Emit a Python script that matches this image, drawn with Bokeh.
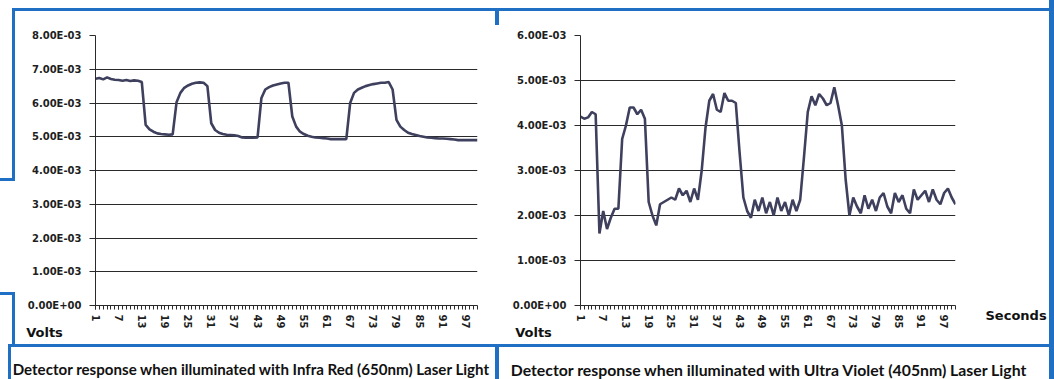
from bokeh.plotting import figure
from bokeh.models import Range1d, FixedTicker, Label
from bokeh.layouts import row
from bokeh.embed import file_html
from bokeh.resources import INLINE

# ---------------- data ----------------
seconds = list(range(1, 101))

# detector response in units of 1E-03 V
ir_response_mv = [
    6.72, 6.74, 6.70, 6.76, 6.71, 6.69, 6.68, 6.66, 6.68, 6.65, 6.67, 6.66,
    6.62, 5.35,
    5.22, 5.15, 5.10, 5.08, 5.07, 5.06, 5.07,
    6.02, 6.30, 6.45, 6.52, 6.57, 6.60, 6.61, 6.60, 6.50,
    5.40, 5.20, 5.12, 5.08, 5.06, 5.05, 5.04, 5.02, 4.98, 4.97, 4.97, 4.97, 4.98,
    6.15, 6.40, 6.47, 6.52, 6.55, 6.58, 6.60, 6.60, 5.60,
    5.30, 5.15, 5.08, 5.03, 5.00, 4.98, 4.97, 4.96, 4.95, 4.93, 4.93, 4.93, 4.93, 4.93,
    6.00, 6.30, 6.40, 6.45, 6.50, 6.53, 6.56, 6.58, 6.60, 6.60, 6.62, 6.40,
    5.50, 5.30, 5.20, 5.12, 5.08, 5.05, 5.02, 5.00, 4.98, 4.97, 4.96, 4.95, 4.95,
    4.94, 4.93, 4.92, 4.90, 4.90, 4.90, 4.90, 4.90, 4.90,
]

uv_response_mv = [
    4.20, 4.15, 4.18, 4.30, 4.25,
    1.60, 2.10, 1.70, 1.95, 2.15, 2.15, 3.70, 4.00, 4.40, 4.40, 4.25, 4.35, 4.15,
    2.30, 2.00, 1.78, 2.25,
    2.30, 2.35, 2.40, 2.35, 2.60, 2.45, 2.55, 2.30, 2.60, 2.35,
    3.00, 3.95, 4.55, 4.70, 4.35, 4.30, 4.72, 4.55, 4.55, 4.50, 3.40, 2.40,
    2.10, 1.95, 2.35, 2.10, 2.40, 2.05, 2.30, 2.00, 2.40, 2.10, 2.30, 2.00, 2.35, 2.10, 2.35,
    3.30, 4.30, 4.65, 4.45, 4.70, 4.60, 4.45, 4.50, 4.85, 4.45, 4.00, 2.80, 2.00,
    2.40, 2.20, 2.05, 2.45, 2.15, 2.35, 2.10, 2.40, 2.50, 2.20, 2.05, 2.50, 2.30, 2.45,
    2.15, 2.05, 2.58, 2.35, 2.45, 2.55, 2.30, 2.58, 2.35, 2.25, 2.50, 2.60, 2.40, 2.25,
]

x_label_ticks = [1, 7, 13, 19, 25, 31, 37, 43, 49, 55, 61, 67, 73, 79, 85, 91, 97]

ir_y_ticks = [0.0, 0.001, 0.002, 0.003, 0.004, 0.005, 0.006, 0.007, 0.008]
ir_y_labels = ["0.00E+00", "1.00E-03", "2.00E-03", "3.00E-03", "4.00E-03",
               "5.00E-03", "6.00E-03", "7.00E-03", "8.00E-03"]
uv_y_ticks = [0.0, 0.001, 0.002, 0.003, 0.004, 0.005, 0.006]
uv_y_labels = ["0.00E+00", "1.00E-03", "2.00E-03", "3.00E-03", "4.00E-03",
               "5.00E-03", "6.00E-03"]

y_title = "Volts"
x_title = "Seconds"
ir_caption = "Detector response when illuminated with Infra Red (650nm) Laser Light"
uv_caption = "Detector response when illuminated with Ultra Violet (405nm) Laser Light"

MV = 1e-3
BLUE = "#1f6fc4"
LINE = "#3e405e"
INK = "#1e1e1e"
AXIS_FONT = "DejaVu Sans"


def frame_bars(bars):
    """CSS background stripes for the blue panel rules (x, y, w, h in px)."""
    grad = f"linear-gradient({BLUE}, {BLUE})"
    return {
        "background-color": "white",
        "background-image": ", ".join([grad] * len(bars)),
        "background-position": ", ".join(f"{x}px {y}px" for x, y, w, h in bars),
        "background-size": ", ".join(f"{w}px {h}px" for x, y, w, h in bars),
        "background-repeat": "no-repeat",
    }


def make_fig(width, left, right, top, bottom, y_ticks, y_labels, values, bars):
    p = figure(width=width, height=379, output_backend="svg", toolbar_location=None,
               x_range=Range1d(seconds[0], seconds[-1]),
               y_range=Range1d(y_ticks[0], y_ticks[-1]),
               min_border_left=left, min_border_right=right,
               min_border_top=top, min_border_bottom=bottom,
               styles=frame_bars(bars))
    p.outline_line_color = None
    p.background_fill_color = None
    p.border_fill_color = None

    p.xgrid.grid_line_color = None
    p.ygrid.grid_line_color = "#2a2a2a"
    p.ygrid.grid_line_width = 1
    p.ygrid.ticker = FixedTicker(ticks=y_ticks)

    xa = p.xaxis[0]
    xa.ticker = FixedTicker(ticks=x_label_ticks, minor_ticks=seconds)
    xa.axis_line_color = "#2a2a2a"
    xa.major_tick_line_color = "#2a2a2a"
    xa.minor_tick_line_color = "#2a2a2a"
    xa.major_tick_in = 0
    xa.major_tick_out = 4
    xa.minor_tick_in = 0
    xa.minor_tick_out = 4
    xa.major_label_orientation = "vertical"
    xa.major_label_standoff = 5
    xa.major_label_text_font = AXIS_FONT
    xa.major_label_text_font_style = "bold"
    xa.major_label_text_font_size = "10px"
    xa.major_label_text_color = INK

    ya = p.yaxis[0]
    ya.ticker = FixedTicker(ticks=y_ticks)
    ya.major_label_overrides = dict(zip(y_ticks, y_labels))
    ya.axis_line_color = "#2a2a2a"
    ya.major_tick_line_color = "#2a2a2a"
    ya.minor_tick_line_color = None
    ya.major_tick_in = 0
    ya.major_tick_out = 6
    ya.major_label_standoff = 8
    ya.major_label_text_font = AXIS_FONT
    ya.major_label_text_font_style = "bold"
    ya.major_label_text_font_size = "10px"
    ya.major_label_text_color = INK

    p.line(seconds, [v * MV for v in values], line_color=LINE, line_width=2.6)
    return p


def side_text(p, side, x, y, text, size, font, align="center"):
    p.add_layout(Label(x=x, y=y, x_units="screen", y_units="screen",
                       text=text, text_font=font, text_font_style="bold",
                       text_font_size=size, text_color="#111111",
                       text_align=align, text_baseline="middle"), side)


# left panel: figure covers x 0..497, frame 95..477 / 26..305
left_bars = [(12, 8, 485, 3), (12, 8, 3, 173), (0, 178, 15, 3), (0, 292, 15, 3),
             (12, 292, 3, 55), (8, 344, 489, 3), (8, 344, 3, 35),
             (495, 8, 2, 17), (495, 344, 2, 35)]
p1 = make_fig(497, 95, 20, 26, 74, ir_y_ticks, ir_y_labels, ir_response_mv, left_bars)
side_text(p1, "below", -51, 14, y_title, "13px", AXIS_FONT)
side_text(p1, "below", 156, -4, ir_caption, "15.1px", "Lato")

# right panel: figure covers x 497..1054, frame 580..955 / 35..305
right_bars = [(0, 8, 554, 3), (0, 8, 2, 17), (0, 344, 2, 35),
              (552, 0, 5, 379), (0, 344, 557, 3)]
p2 = make_fig(557, 83, 99, 35, 74, uv_y_ticks, uv_y_labels, uv_response_mv, right_bars)
side_text(p2, "below", -47, 14, y_title, "13px", AXIS_FONT)
side_text(p2, "below", 189, -4, uv_caption, "15.8px", "Lato")
side_text(p2, "right", 30, -10, x_title, "13px", AXIS_FONT, align="left")

layout = row(p1, p2, spacing=0)

open("out.html", "w").write(file_html(layout, INLINE))
